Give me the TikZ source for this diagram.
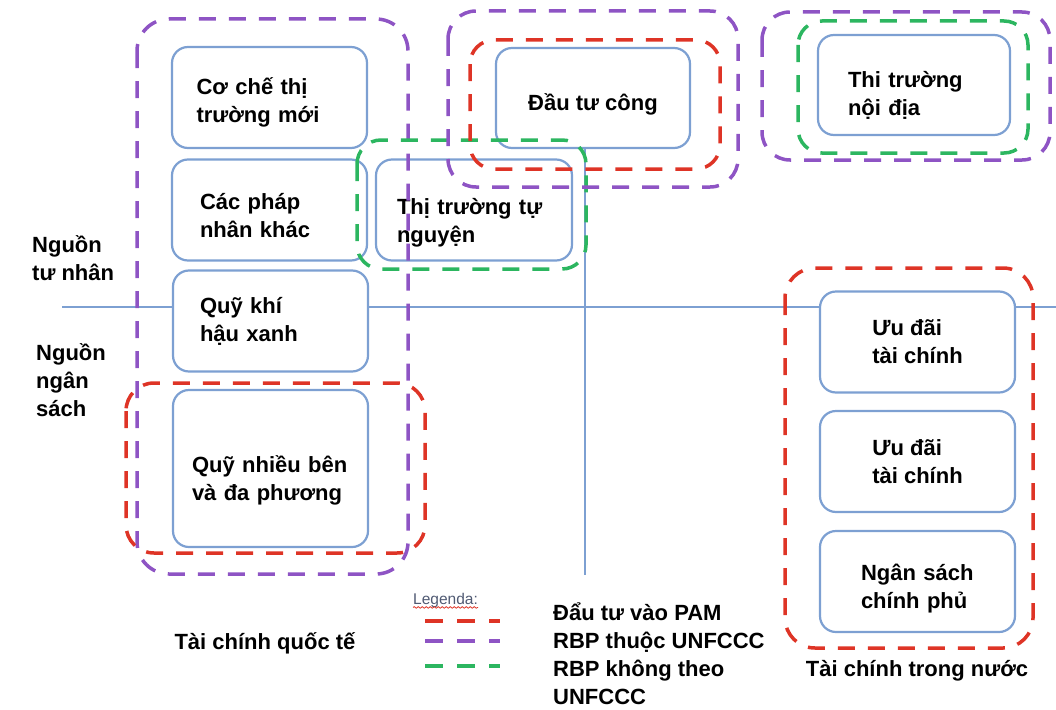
\documentclass[tikz,border=0pt]{standalone}
\usepackage{fontspec}
\setmainfont{Liberation Sans}
\usetikzlibrary{backgrounds,decorations.pathmorphing}
\definecolor{boxblue}{RGB}{125,160,210}
\definecolor{dashred}{RGB}{222,52,38}
\definecolor{dashpurple}{RGB}{142,84,196}
\definecolor{dashgreen}{RGB}{44,182,96}
\definecolor{legendgray}{RGB}{80,90,115}

\begin{document}
\begin{tikzpicture}[x=1pt, y=-1pt,
		box_style/.style={draw=boxblue, line width=2.2pt, rounded corners=16pt, fill=white,
			minimum width=195pt, minimum height=101pt, align=left, inner sep=0pt,
			font=\bfseries\fontsize{22}{28}\selectfont},
		text_drop/.style={execute at begin node={\rule{0pt}{#1pt}}},
		label_style/.style={align=left, inner sep=0pt, font=\bfseries\fontsize{22}{28}\selectfont},
		frame_style/.style={line width=3.5pt, dash pattern=on 17pt off 13pt, rounded corners=28pt},
		frame_red/.style={frame_style, draw=dashred},
		frame_purple/.style={frame_style, draw=dashpurple},
		frame_green/.style={frame_style, draw=dashgreen},
		key_style/.style={line width=3.5pt, dash pattern=on 18pt off 14pt},
		axis_style/.style={draw=boxblue, line width=2pt}]
		
		\useasboundingbox (0,0) rectangle (1056,709);
		
		% international column
		\node[box_style, text width=146pt, text_drop=27] (cct) at (269.5,97.5) {Cơ chế thị\\trường mới};
		\node[box_style, text width=139pt, text_drop=27] (cpn) at (269.5,210) {Các pháp\\nhân khác};
		\node[box_style, text width=141pt] (qkh) at (270.5,321) {Quỹ khí\\hậu xanh};
		\node[box_style, minimum height=157pt, text width=157pt, text_drop=41] (qnb) at (270.5,468.5) {Quỹ nhiều bên\\và đa phương};
		\node[box_style, minimum width=196pt, text width=154pt, text_drop=42] (ttt) at (474,210) {Thị trường tự\\nguyện};
		\node[box_style, minimum width=194pt, minimum height=100pt, text_drop=29] (dtc) at (593,98) {Đầu tư công};
		
		% domestic column
		\node[box_style, minimum width=192pt, minimum height=100pt, text width=132pt, text_drop=36] (ttn) at (914,85) {Thi trường\\nội địa};
		\node[box_style] (ud1) at (917.5,342) {Ưu đãi\\tài chính};
		\node[box_style] (ud2) at (917.5,461.5) {Ưu đãi\\tài chính};
		\node[box_style, text width=113pt, text_drop=31] (nsc) at (917.5,581.5) {Ngân sách\\chính phủ};
		
		% axes
		\coordinate (hL) at (62,307);
		\coordinate (hR) at (1056,307);
		\coordinate (vB) at (585,575);
		\begin{scope}[on background layer]
			\draw[axis_style] (hL) -- (hR);
			\draw[axis_style] (dtc.south -| vB) -- (vB);
		\end{scope}
		
		% side and bottom labels
		\node[label_style, anchor=west] (tn) at (32,258) {Nguồn\\tư nhân};
		\node[label_style, anchor=west] (ns) at (36,380) {Nguồn\\ngân\\sách};
		\node[label_style] (qt) at (265,643) {Tài chính quốc tế};
		\node[label_style] (tnc) at (917,671) {Tài chính trong nước};
		
		% groups
		\draw[frame_purple, rounded corners=32pt] (137,19) rectangle (408,574);
		\draw[frame_red] (126,383) rectangle (425,553);
		\draw[frame_green, rounded corners=24pt] (357,140) rectangle (586,269);
		\draw[frame_red, rounded corners=24pt] (470,40) rectangle (720,169);
		\draw[frame_purple] (448,11) rectangle (738,187);
		\draw[frame_green, rounded corners=24pt] (798,21) rectangle (1028,153);
		\draw[frame_purple] (762,12) rectangle (1050,160);
		\draw[frame_red, rounded corners=30pt] (785,268) rectangle (1033,648);
		
		% legend
		\node[inner sep=0pt, anchor=west, text=legendgray, font=\fontsize{15.5}{18}\selectfont] (lgd) at (413,600) {Legenda:};
		\draw[dashred, line width=0.8pt, decorate, decoration={snake, amplitude=0.8pt, segment length=4pt}] (lgd.south west) -- (lgd.south east);
		\draw[key_style, draw=dashred] (425,621) -- (500,621);
		\draw[key_style, draw=dashpurple] (425,641) -- (500,641);
		\draw[key_style, draw=dashgreen] (425,666) -- (500,666);
		\node[label_style, anchor=north west] (lgt) at (553,603) {Đẩu tư vào PAM\\RBP thuộc UNFCCC\\RBP không theo\\UNFCCC};
		
\end{tikzpicture}
\end{document}
